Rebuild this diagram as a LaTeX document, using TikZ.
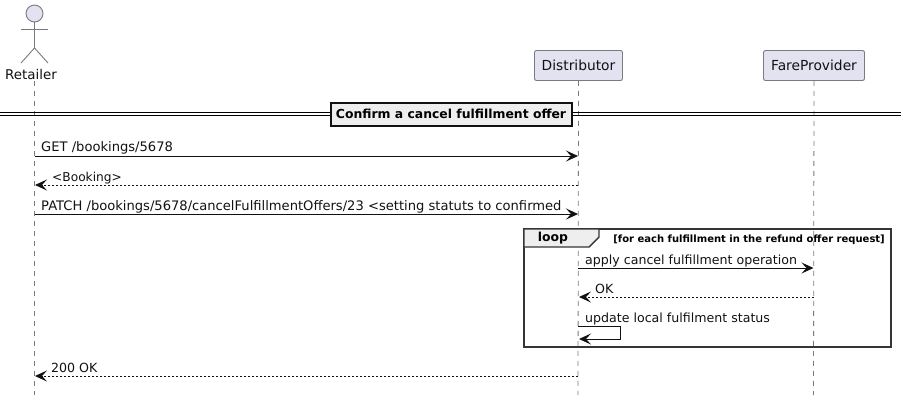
\documentclass[tikz,border=0pt]{standalone}
\usepackage{fontspec}
\setmainfont{DejaVu Sans}
\usetikzlibrary{calc,arrows.meta}
\definecolor{partfill}{HTML}{E2E2F0}
\definecolor{partline}{HTML}{7A7A82}
\definecolor{groupfill}{HTML}{EEEEEE}
\definecolor{inkblack}{HTML}{111111}
\tikzstyle{part}=[rectangle, rounded corners=2pt, inner sep=0pt, minimum height=30pt, draw=partline, line width=0.9pt, fill=partfill, font=\fontsize{13.8}{15}\selectfont, text=inkblack]
\tikzstyle{life}=[draw=partline, line width=0.8pt, dash pattern=on 5pt off 5pt]
\tikzstyle{msg}=[inner sep=0pt, anchor=base west, font=\fontsize{12.6}{14}\selectfont, text=inkblack]
\tikzstyle{msgwide}=[msg, font=\fontsize{13.1}{14}\selectfont]
\tikzstyle{call}=[-{Stealth[length=12pt, width=11pt, inset=5pt]}, draw=inkblack, line width=0.9pt]
\tikzstyle{reply}=[call, dash pattern=on 2pt off 2pt]
\tikzstyle{grouptxt}=[inner sep=0pt, font=\bfseries\fontsize{12.4}{14}\selectfont, text=black]

\begin{document}
\begin{tikzpicture}[x=1pt, y=-1pt]
\useasboundingbox (0, 0) rectangle (907, 400);

\node [part, minimum width=88pt] (Dist) at (578.5, 65.5) {Distributor};
\node [part, minimum width=101pt] (Fare) at (814, 65.5) {FareProvider};
\node [inner sep=0pt, font=\fontsize{13.4}{15}\selectfont, text=inkblack] (Ret) at (31, 74) {Retailer};

\coordinate (RetTop) at (34.5, 81);
\coordinate (RetEnd) at (34.5, 395);
\coordinate (DistEnd) at (578, 395);
\coordinate (FareEnd) at (813.5, 395);

\draw [life] (RetTop) -- (RetEnd);
\draw [life] (Dist.south) -- (DistEnd);
\draw [life] (Fare.south) -- (FareEnd);

% actor
\node [circle, minimum size=17pt, inner sep=0pt, draw=partline, line width=0.9pt, fill=partfill] (head) at (34.5, 13.5) {};
\coordinate (armL) at (21, 29);
\coordinate (armR) at (48, 29);
\coordinate (hip) at (34.5, 48);
\coordinate (footL) at (21, 63);
\coordinate (footR) at (48, 63);
\draw [draw=partline, line width=0.9pt] (head.south) -- (hip);
\draw [draw=partline, line width=0.9pt] (armL) -- (armR);
\draw [draw=partline, line width=0.9pt] (footL) -- (hip) -- (footR);

% divider
\coordinate (divL) at (0, 112.5);
\coordinate (divR) at (901, 112.5);
\coordinate (divLb) at (0, 115.5);
\coordinate (divRb) at (901, 115.5);
\draw [line width=1pt, draw=black] (divL) -- (divR);
\draw [line width=1pt, draw=black] (divLb) -- (divRb);
\node [grouptxt, draw=inkblack, line width=2pt, fill=groupfill, minimum width=241pt, minimum height=23pt] (conf) at (451, 114) {Confirm a cancel fulfillment offer};

% messages
\coordinate (m1a) at (34.5, 156);
\coordinate (m1b) at (578, 156);
\coordinate (m2a) at (578, 185);
\coordinate (m2b) at (35, 185);
\coordinate (m3a) at (34.5, 214);
\coordinate (m3b) at (578, 214);

\draw [call] (m1a) -- (m1b);
\draw [reply] (m2a) -- (m2b);
\draw [call] (m3a) -- (m3b);

\node [msgwide] (t1) at (41, 151) {GET /bookings/5678};
\node [msg, font=\fontsize{12.2}{14}\selectfont] (t2) at (52, 181) {<Booking>};
\node [msgwide] (t3) at (41, 210) {PATCH /bookings/5678/cancelFulfillmentOffers/23 <setting statuts to confirmed};

% loop
\node [rectangle, inner sep=0pt, minimum width=367pt, minimum height=118pt, draw=inkblack!85, line width=2pt] (loopbox) at (707.5, 288) {};
\coordinate (tabA) at (524, 229);
\coordinate (tabB) at (599, 229);
\coordinate (tabC) at (599, 237);
\coordinate (tabD) at (589, 247);
\coordinate (tabE) at (524, 247);
\draw [draw=inkblack!85, line width=1.4pt, fill=groupfill] (tabA) -- (tabB) -- (tabC) -- (tabD) -- (tabE) -- cycle;
\node [grouptxt] (looplbl) at (553, 238.5) {loop};
\node [inner sep=0pt, anchor=base east, font=\bfseries\fontsize{10}{11}\selectfont, text=black] (guard) at (885, 242) {[for each fulfillment in the refund offer request]};

\coordinate (m4a) at (578, 268);
\coordinate (m4b) at (813.5, 268);
\coordinate (m5a) at (813.5, 297);
\coordinate (m5b) at (579, 297);
\coordinate (m6a) at (578, 326);
\coordinate (m6c) at (620.5, 326);
\coordinate (m6d) at (620.5, 339);
\coordinate (m6b) at (579, 339);

\draw [call] (m4a) -- (m4b);
\draw [reply] (m5a) -- (m5b);
\draw [call] (m6a) -- (m6c) -- (m6d) -- (m6b);

\node [msg] (t4) at (585, 264) {apply cancel fulfillment operation};
\node [msg] (t5) at (595, 293) {OK};
\node [msg] (t6) at (585, 322) {update local fulfilment status};

\coordinate (m7a) at (578, 376);
\coordinate (m7b) at (35, 376);
\draw [reply] (m7a) -- (m7b);
\node [msg] (t7) at (51, 372) {200 OK};

\end{tikzpicture}
\end{document}
